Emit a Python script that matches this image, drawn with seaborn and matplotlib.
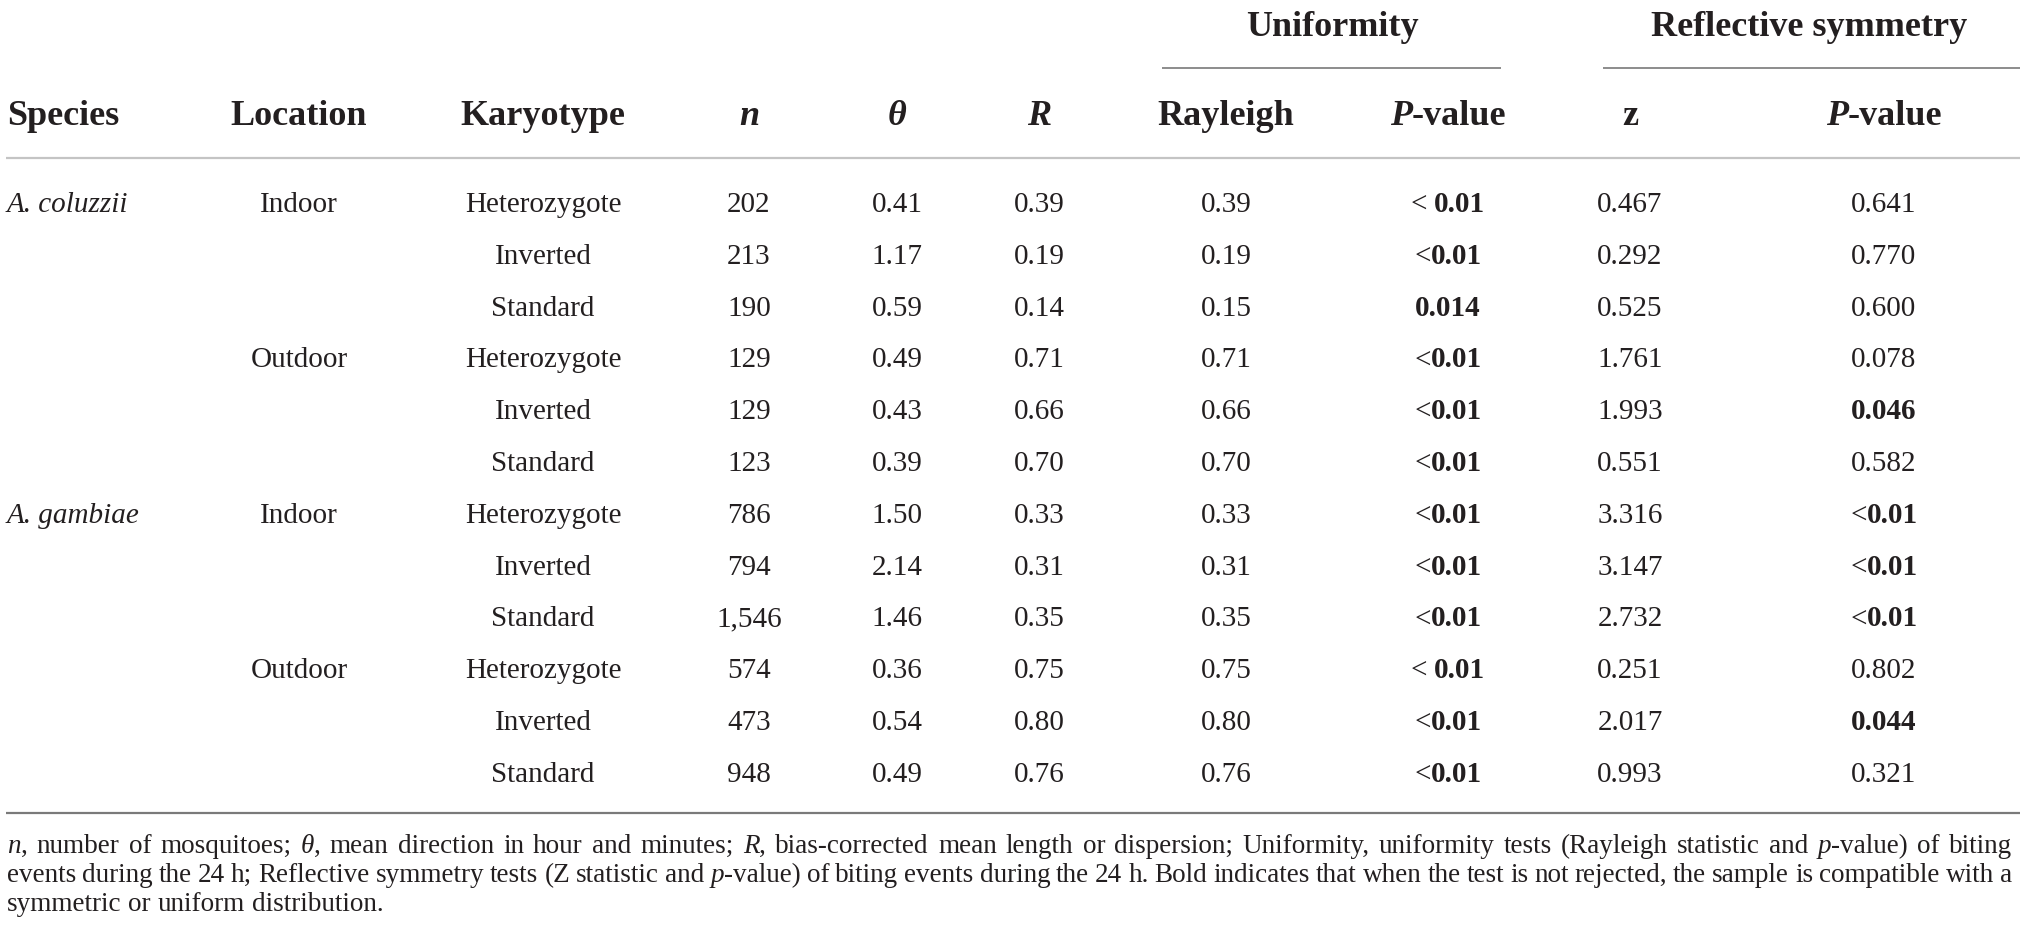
import numpy as np
import pandas as pd
import seaborn as sns
import matplotlib.pyplot as plt

# table values
species = ["A. coluzzii", "", "", "", "", "", "A. gambiae", "", "", "", "", ""]
location = ["Indoor", "", "", "Outdoor", "", "", "Indoor", "", "", "Outdoor", "", ""]
karyotype = ["Heterozygote", "Inverted", "Standard"] * 4
n_mosq = [202, 213, 190, 129, 129, 123, 786, 794, 1546, 574, 473, 948]
theta = [0.41, 1.17, 0.59, 0.49, 0.43, 0.39, 1.50, 2.14, 1.46, 0.36, 0.54, 0.49]
r_len = [0.39, 0.19, 0.14, 0.71, 0.66, 0.70, 0.33, 0.31, 0.35, 0.75, 0.80, 0.76]
rayleigh = [0.39, 0.19, 0.15, 0.71, 0.66, 0.70, 0.33, 0.31, 0.35, 0.75, 0.80, 0.76]
p_unif = ["< 0.01", "<0.01", "0.014", "<0.01", "<0.01", "<0.01",
          "<0.01", "<0.01", "<0.01", "< 0.01", "<0.01", "<0.01"]
z_stat = [0.467, 0.292, 0.525, 1.761, 1.993, 0.551, 3.316, 3.147, 2.732, 0.251, 2.017, 0.993]
p_sym = ["0.641", "0.770", "0.600", "0.078", "0.046", "0.582",
         "<0.01", "<0.01", "<0.01", "0.802", "0.044", "0.321"]
p_sym_bold = [False, False, False, False, True, False, True, True, True, False, True, False]

footnote = [
    "*n*, number of mosquitoes; *θ*, mean direction in hour and minutes; *R*, bias-corrected mean "
    "length or dispersion; Uniformity, uniformity tests (Rayleigh statistic and *p*-value) of biting",
    "events during the 24 h; Reflective symmetry tests (Z statistic and *p*-value) of biting events "
    "during the 24 h. Bold indicates that when the test is not rejected, the sample is compatible with a",
    "symmetric or uniform distribution.",
]

df = pd.DataFrame({
    "Species": species, "Location": location, "Karyotype": karyotype,
    "n": [f"{v:,}" for v in n_mosq], "theta": [f"{v:.2f}" for v in theta],
    "R": [f"{v:.2f}" for v in r_len], "Rayleigh": [f"{v:.2f}" for v in rayleigh],
    "P_unif": p_unif, "z": [f"{v:.3f}" for v in z_stat], "P_sym": p_sym,
})

sns.set_theme(style="white")
plt.rcParams["font.family"] = ["Liberation Serif", "DejaVu Serif"]
INK = "#231f20"

W, H = 2020, 941
fig = plt.figure(figsize=(W / 100, H / 100), dpi=100)
ax = fig.add_axes([0, 0, 1, 1])
ax.set_xlim(0, W)
ax.set_ylim(H, 0)
ax.axis("off")
rend = fig.canvas.get_renderer()


def run(x, y, pieces, ha="center", size=21):
    # pieces: (text, weight, style) or a number = gap in px
    items, total = [], 0.0
    for p in pieces:
        if isinstance(p, (int, float)):
            items.append((None, p))
            total += p
            continue
        s, wt, st = p
        t = ax.text(0, y, s, fontsize=size, fontweight=wt, fontstyle=st,
                    va="baseline", ha="left", color=INK)
        w = t.get_window_extent(rend).width
        items.append((t, w))
        total += w
    start = {"center": x - total / 2, "right": x - total, "left": x}[ha]
    for t, w in items:
        if t is not None:
            t.set_x(start)
        start += w
    return total


def cell(s, bold=False, italic=False):
    wt = "bold" if bold else "normal"
    st = "italic" if italic else "normal"
    if s.startswith("<"):
        num = s[1:].strip()
        gap = 7 if s.startswith("< ") else 0
        return [("<", "normal", st), gap, (num, wt, st)]
    return [(s, wt, st)]


# column positions (px)
col_x = {"Species": 7, "Location": 299, "Karyotype": 543, "n": 749, "theta": 897,
         "R": 1039, "Rayleigh": 1226, "P_unif": 1448, "z": 1630, "P_sym": 1884}

HS = 26   # header size (pt)
BS = 21   # body size (pt)

# group headers and rules
run(1332, 36, [("Uniformity", "bold", "normal")], size=HS)
run(1809, 36, [("Reflective symmetry", "bold", "normal")], size=HS)
ax.hlines(68, 1162, 1501, color="#8c8c8c", lw=1.4)
ax.hlines(68, 1603, 2020, color="#8c8c8c", lw=1.4)

# column headers
hb = 125
run(col_x["Species"], hb, [("Species", "bold", "normal")], ha="left", size=HS)
run(col_x["Location"], hb, [("Location", "bold", "normal")], size=HS)
run(col_x["Karyotype"], hb, [("Karyotype", "bold", "normal")], size=HS)
run(col_x["n"], hb, [("n", "bold", "italic")], size=HS)
run(col_x["theta"], hb, [("θ", "bold", "italic")], size=HS)
run(col_x["R"], hb, [("R", "bold", "italic")], size=HS)
run(col_x["Rayleigh"], hb, [("Rayleigh", "bold", "normal")], size=HS)
run(col_x["P_unif"], hb, [("P", "bold", "italic"), ("-value", "bold", "normal")], size=HS)
run(col_x["z"], hb, [("z", "bold", "normal")], size=HS)
run(col_x["P_sym"], hb, [("P", "bold", "italic"), ("-value", "bold", "normal")], size=HS)
ax.hlines(158, 6, 2020, color="#c4c4c4", lw=1.6)

# body rows
row0, step = 212, 51.8
for i, r in df.iterrows():
    y = row0 + i * step
    if r["Species"]:
        run(col_x["Species"], y, [(r["Species"], "normal", "italic")], ha="left", size=BS)
    if r["Location"]:
        run(col_x["Location"], y, cell(r["Location"]), size=BS)
    for c in ["Karyotype", "n", "theta", "R", "Rayleigh", "z"]:
        run(col_x[c], y, cell(r[c]), size=BS)
    run(col_x["P_unif"], y, cell(r["P_unif"], bold=True), size=BS)
    run(col_x["P_sym"], y, cell(r["P_sym"], bold=p_sym_bold[i]), size=BS)

ax.hlines(813, 6, 2020, color="#7a7a7a", lw=1.6)


# footnote, justified like the journal layout
def word_pieces(w):
    segs = w.split("*")
    return [(s, "normal", "italic" if k % 2 else "normal") for k, s in enumerate(segs) if s]


def word_width(w, size):
    tot = 0.0
    for s, wt, st in word_pieces(w):
        t = ax.text(0, 0, s, fontsize=size, fontweight=wt, fontstyle=st)
        tot += t.get_window_extent(rend).width
        t.remove()
    return tot


x0, x1 = 7, 2012
FS = 19.5
# shrink if a justified line would not fit with a minimal space
for line in footnote[:2]:
    words = line.split(" ")
    nat = sum(word_width(w, FS) for w in words) + 0.18 * FS / 0.72 * (len(words) - 1)
    if nat > x1 - x0:
        FS = FS * (x1 - x0) / nat

base = [853, 882, 911]
for k, line in enumerate(footnote):
    words = line.split(" ")
    widths = [word_width(w, FS) for w in words]
    if k < len(footnote) - 1:
        gap = (x1 - x0 - sum(widths)) / (len(words) - 1)
    else:
        gap = 0.25 * FS / 0.72
    x = x0
    for w, ww in zip(words, widths):
        run(x, base[k], word_pieces(w), ha="left", size=FS)
        x += ww + gap

fig.savefig("out.png", dpi=100, facecolor="white")
